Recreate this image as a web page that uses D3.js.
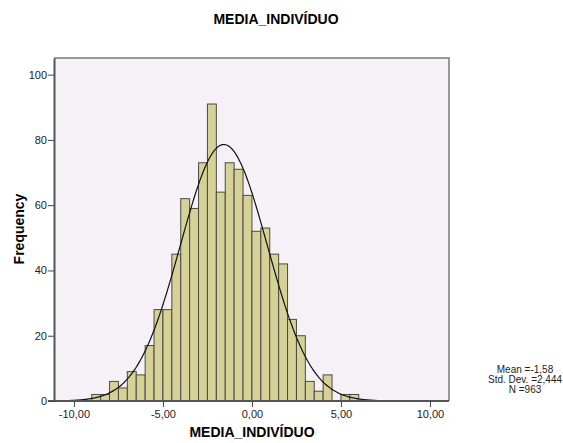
<!DOCTYPE html>
<html>
<head>
<meta charset="utf-8">
<script src="https://cdn.jsdelivr.net/npm/d3@7"></script>
<style>
  body { margin: 0; background: #fff; }
  text { font-family: Arial, "Liberation Sans", sans-serif; }
</style>
</head>
<body>
<div id="chart"></div>
<script>
// histogram bins (lower edge, width 0.5) and counts
const binStarts = [-9, -8.5, -8, -7.5, -7, -6.5, -6, -5.5, -5, -4.5, -4, -3.5, -3, -2.5, -2, -1.5, -1, -0.5,
  0, 0.5, 1, 1.5, 2, 2.5, 3, 3.5, 4, 4.5, 5, 5.5];
const counts = [2, 2, 6, 4, 9, 8, 17, 28, 28, 45, 62, 59, 73, 91, 64, 73, 71, 63,
  52, 53, 45, 42, 25, 20, 6, 3, 8, 0, 2, 2];
const binWidth = 0.5;
const xTicks = [-10, -5, 0, 5, 10];
const yTicks = [0, 20, 40, 60, 80, 100];
const stats = { mean: -1.58, sd: 2.444, n: 963 };

const W = 563, H = 443;
const svg = d3.select("#chart").append("svg")
  .attr("width", W).attr("height", H);

const plot = { left: 54, right: 449, top: 58, bottom: 401 };

const x = d3.scaleLinear().domain([-11.12, 11.07]).range([plot.left, plot.right]);
const y = d3.scaleLinear().domain([0, 105.1]).range([plot.bottom, plot.top]);

// plot background
svg.append("rect")
  .attr("x", plot.left).attr("y", plot.top)
  .attr("width", plot.right - plot.left).attr("height", plot.bottom - plot.top)
  .attr("fill", "#f5f1f6");

// bars
svg.append("g").selectAll("rect")
  .data(binStarts.map((b, i) => ({ x0: b, count: counts[i] })).filter(d => d.count > 0))
  .enter().append("rect")
  .attr("x", d => x(d.x0))
  .attr("y", d => y(d.count))
  .attr("width", d => x(d.x0 + binWidth) - x(d.x0))
  .attr("height", d => y(0) - y(d.count))
  .attr("fill", "#d6d197")
  .attr("stroke", "#4a4a45")
  .attr("stroke-width", 1);

// normal curve from the stated mean / sd / N
const scale = stats.n * binWidth / (stats.sd * Math.sqrt(2 * Math.PI));
const curveX = d3.range(x.domain()[0], x.domain()[1] + 0.01, 0.05);
const line = d3.line()
  .x(v => x(v))
  .y(v => y(scale * Math.exp(-0.5 * Math.pow((v - stats.mean) / stats.sd, 2))))
  .curve(d3.curveBasis);
svg.append("path")
  .datum(curveX)
  .attr("fill", "none")
  .attr("stroke", "#111")
  .attr("stroke-width", 1.2)
  .attr("d", line);

// frame top/right
svg.append("path")
  .attr("d", `M${plot.left},${plot.top}H${plot.right}V${plot.bottom}`)
  .attr("fill", "none")
  .attr("stroke", "#7a7a7a")
  .attr("stroke-width", 1.5);

// axes
const xAxis = svg.append("g")
  .attr("transform", `translate(0,${plot.bottom})`)
  .call(d3.axisBottom(x).tickValues(xTicks).tickSize(6).tickSizeOuter(0)
    .tickFormat(d => d3.format(".2f")(d).replace(".", ",").replace("−", "-")));
const yAxis = svg.append("g")
  .attr("transform", `translate(${plot.left},0)`)
  .call(d3.axisLeft(y).tickValues(yTicks).tickSize(6).tickSizeOuter(0));

[xAxis, yAxis].forEach(a => {
  a.select(".domain").attr("stroke", "#555").attr("stroke-width", 2);
  a.selectAll(".tick line").attr("stroke", "#444");
  a.selectAll(".tick text").attr("fill", "#222")
    .style("font-family", "Arial, 'Liberation Sans', sans-serif").style("font-size", "11px");
});
xAxis.select(".domain").attr("d", `M${plot.left - 6},0H${plot.right}`);
xAxis.selectAll(".tick text").attr("dy", "0").attr("y", 17);
yAxis.selectAll(".tick text").attr("x", -7);

// titles
svg.append("text")
  .attr("x", 276).attr("y", 24)
  .attr("text-anchor", "middle")
  .style("font-weight", "bold").style("font-size", "14px")
  .text("MEDIA_INDIVÍDUO");

svg.append("text")
  .attr("x", 252).attr("y", 437)
  .attr("text-anchor", "middle")
  .style("font-weight", "bold").style("font-size", "14px")
  .text("MEDIA_INDIVÍDUO");

svg.append("text")
  .attr("transform", "rotate(-90)")
  .attr("x", -229).attr("y", 24)
  .attr("text-anchor", "middle")
  .style("font-weight", "bold").style("font-size", "14px")
  .text("Frequency");

// stats legend
const fmt = (v, d) => d3.format(`.${d}f`)(v).replace(".", ",").replace("−", "-");
const legendLines = [`Mean =${fmt(stats.mean, 2)}`, `Std. Dev. =${fmt(stats.sd, 3)}`, `N =${stats.n}`];
svg.append("g").selectAll("text")
  .data(legendLines)
  .enter().append("text")
  .attr("x", 525).attr("y", (d, i) => 373 + i * 10)
  .attr("text-anchor", "middle")
  .style("font-size", "10px")
  .attr("fill", "#222")
  .text(d => d);
</script>
</body>
</html>
